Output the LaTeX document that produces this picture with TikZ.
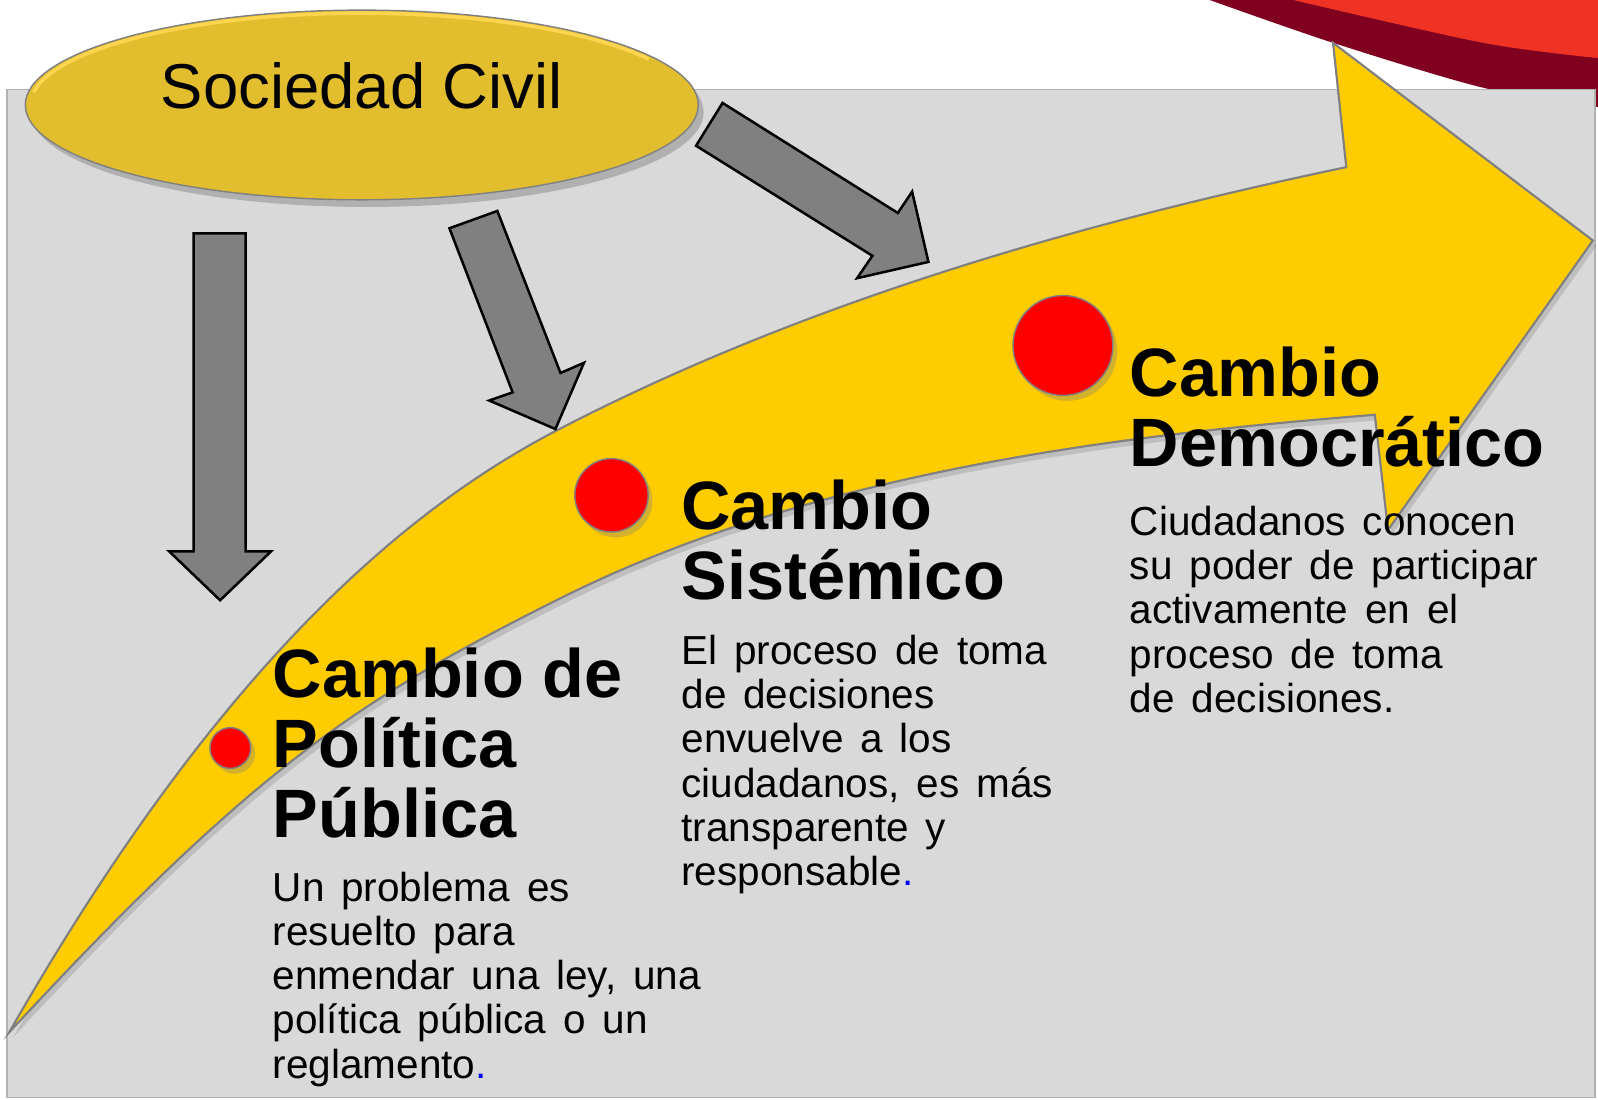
\documentclass[tikz,border=0pt]{standalone}
\usepackage{fontspec}
\setmainfont{Liberation Sans}
\newfontfamily\bodyfont{Liberation Sans}[WordSpace=1.5]
\usepackage{xcolor}
\usepackage{tikz}
\usetikzlibrary{shapes,shadows}
\definecolor{bgray}{HTML}{D9D9D9}
\definecolor{ayel}{HTML}{FFCC00}
\definecolor{gold}{HTML}{E2BE2E}
\definecolor{goldrim}{HTML}{FFD54F}
\definecolor{wine}{HTML}{800020}
\definecolor{bred}{HTML}{EE3224}
\definecolor{agray}{HTML}{808080}
\tikzset{dot/.style={circle,draw=gray,fill=red,inner sep=0pt,drop shadow={opacity=0.35,shadow xshift=1.2pt,shadow yshift=-1.5pt}}}
\tikzset{civ/.style={ellipse,draw=gray,fill=gold,minimum width=6.6cm,minimum height=1.86cm,drop shadow={opacity=0.45,shadow xshift=1.5pt,shadow yshift=-2pt}}}
\tikzset{head/.style={anchor=base west,inner sep=0pt,align=left,font=\fontsize{19.1}{19.6}\selectfont\bfseries}}
\tikzset{txt/.style={anchor=base west,inner sep=0pt,align=left,font=\fontsize{11.3}{12.35}\bodyfont}}
\tikzset{blk/.style={draw=black,fill=agray,line width=0.7pt,line join=miter}}

\begin{document}
\begin{tikzpicture}[x=0.01cm,y=-0.01cm]
    \useasboundingbox (0,0) rectangle (1568,1079);

    \fill[wine] plot[smooth] coordinates {(1187,0) (1308,42) (1455,86) (1568,105)} -- (1568,0) -- cycle;
    \fill[bred] plot[smooth] coordinates {(1269,0) (1455,42) (1568,57)} -- (1568,0) -- cycle;
    \filldraw[fill=bgray,draw=gray!60] (7,88) rectangle (1565,1077);

    \filldraw[fill=ayel,draw=gray,line width=0.6pt,drop shadow={opacity=0.3,shadow xshift=1pt,shadow yshift=-1.5pt}]
        (9,1013) .. controls (189,698) and (365,517) .. (545,423)
        .. controls (795,293) and (1071,216.5) .. (1321,164)
        -- (1308,42) -- (1563,236) -- (1362,520) -- (1349,407)
        .. controls (1099,427) and (800,462) .. (550,587)
        .. controls (350,687) and (249,754) .. (9,1013) -- cycle;

    \filldraw[blk] (190,229) -- (241,229) -- (241,541) -- (266,541) -- (216,589) -- (166,541) -- (190,541) -- cycle;
    \filldraw[blk] (441,224) -- (488,207) -- (550,366) -- (573,356) -- (545,421) -- (480,393) -- (503,385) -- cycle;
    \filldraw[blk] (709,101) -- (683,143) -- (856,251) -- (841,273) -- (911,257) -- (895,188) -- (881,209) -- cycle;

    \node[civ] (sc) at (355,103) {};
    \draw[goldrim,line width=1pt] ([shift={(172:3.25cm and 0.9cm)}]sc.center) arc[start angle=172,end angle=30,x radius=3.25cm,y radius=0.9cm];
    \node[anchor=base,inner sep=0pt,font=\fontsize{17.7}{20}\selectfont] (sct) at (355,106) {Sociedad Civil};

    \node[dot,minimum size=0.4cm] (p1) at (226,734) {};
    \node[dot,minimum size=0.72cm] (p2) at (600,486) {};
    \node[dot,minimum size=0.98cm] (p3) at (1043,339) {};

    \node[head] (h1) at (267,822) {Cambio de\\Política\\Pública};
    \node[head] (h2) at (668,588) {Cambio\\Sistémico};
    \node[head] (h3) at (1108,458) {Cambio\\Democrático};

    \node[txt] (t1) at (267,1058) {Un problema es\\resuelto para\\enmendar una ley, una\\política pública o un\\reglamento\textcolor{blue}{.}};
    \node[txt] (t2) at (668,869) {El proceso de toma\\de decisiones\\envuelve a los\\ciudadanos, es más\\transparente y\\responsable\textcolor{blue}{.}};
    \node[txt] (t3) at (1108,699) {Ciudadanos conocen\\su poder de participar\\activamente en el\\proceso de toma\\de decisiones.};
\end{tikzpicture}
\end{document}
